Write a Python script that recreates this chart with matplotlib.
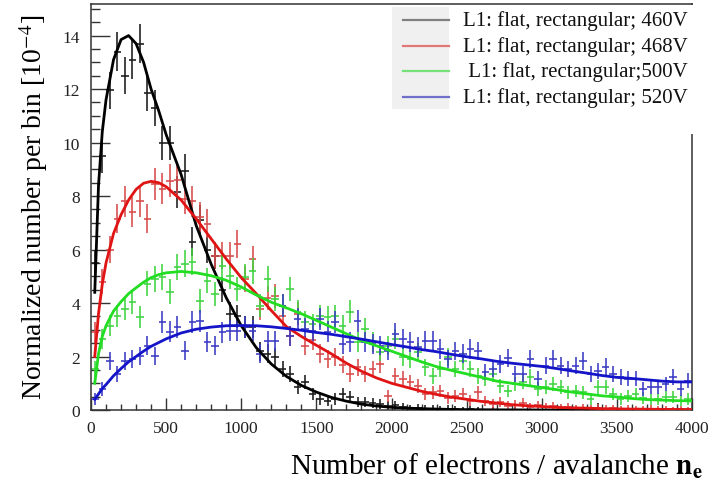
import numpy as np
import matplotlib
matplotlib.use("Agg")
import matplotlib.pyplot as plt
from matplotlib.lines import Line2D
from matplotlib.patches import Rectangle
from matplotlib.ticker import MultipleLocator

# ---------------------------------------------------------------- data
bin_width = 50
bin_centers = np.arange(25, 4000, bin_width)          # 80 bins, 0..4000

labels = [
    "L1: flat, rectangular; 460V",
    "L1: flat, rectangular; 468V",
    " L1: flat, rectangular;500V",
    "L1: flat, rectangular; 520V",
]

# normalized counts per bin [1e-4]
h460 = [5.5, 9.5, 11.95, 13.4, 12.5, 13.1, 13.7, 11.85, 11.3, 9.97,
        9.97, 8.15, 8.95, 6.3, 7.1, 6.0, 5.77, 4.5, 3.6, 3.5,
        3.1, 3.1, 2.2, 2.1, 1.98, 1.54, 1.35, 0.86, 1.05, 0.6,
        0.41, 0.34, 0.41, 0.6, 0.5, 0.3, 0.3, 0.26, 0.22, 0.15,
        0.18, 0.12, 0.06, 0.08, 0.04, 0.05, 0.02, 0.04, 0.02, 0.01,
        0.02, 0.01, 0.0, 0.01, 0.0, 0.0, 0.01, 0.0, 0.0, 0.0,
        0.0, 0.0, 0.0, 0.0, 0.0, 0.0, 0.0, 0.02, 0.0, 0.0,
        0.0, 0.0, 0.0, 0.0, 0.0, 0.0, 0.0, 0.0, 0.0, 0.0]
e460 = [0.5, 0.62, 0.69, 0.72, 0.7, 0.72, 0.73, 0.68, 0.67, 0.64,
        0.64, 0.59, 0.61, 0.53, 0.55, 0.52, 0.51, 0.46, 0.42, 0.42,
        0.4, 0.4, 0.35, 0.35, 0.34, 0.31, 0.3, 0.26, 0.27, 0.23,
        0.21, 0.2, 0.21, 0.23, 0.22, 0.19, 0.19, 0.19, 0.18, 0.17,
        0.17, 0.16, 0.14, 0.15, 0.13, 0.14, 0.12, 0.13, 0.12, 0.12,
        0.12, 0.12, 0.0, 0.12, 0.0, 0.0, 0.12, 0.0, 0.0, 0.0,
        0.0, 0.0, 0.0, 0.0, 0.0, 0.0, 0.0, 0.25, 0.0, 0.0,
        0.0, 0.0, 0.0, 0.0, 0.0, 0.0, 0.0, 0.0, 0.0, 0.0]

h468 = [2.9, 4.8, 6.0, 7.15, 7.8, 7.4, 7.8, 7.15, 8.46, 8.28,
        8.58, 8.6, 7.9, 7.8, 7.2, 6.97, 5.77, 5.77, 5.77, 6.2,
        4.9, 5.65, 3.78, 4.2, 4.27, 3.5, 2.77, 3.6, 2.4, 2.6,
        2.1, 1.9, 1.98, 1.7, 1.35, 1.6, 1.35, 1.54, 1.72, 0.52,
        1.27, 1.16, 1.05, 0.9, 0.6, 0.67, 0.71, 0.45, 0.52, 0.6,
        0.35, 0.67, 0.34, 0.22, 0.3, 0.15, 0.2, 0.25, 0.12, 0.18,
        0.1, 0.14, 0.08, 0.1, 0.06, 0.09, 0.05, 0.07, 0.04, 0.06,
        0.03, 0.05, 0.03, 0.02, 0.04, 0.02, 0.03, 0.01, 0.02, 0.01]
e468 = [0.39, 0.47, 0.52, 0.55, 0.57, 0.56, 0.57, 0.55, 0.59, 0.59,
        0.6, 0.6, 0.58, 0.57, 0.56, 0.55, 0.51, 0.51, 0.51, 0.52,
        0.48, 0.5, 0.43, 0.45, 0.45, 0.42, 0.38, 0.42, 0.36, 0.37,
        0.35, 0.33, 0.34, 0.32, 0.3, 0.32, 0.3, 0.31, 0.32, 0.22,
        0.29, 0.28, 0.27, 0.26, 0.23, 0.24, 0.24, 0.21, 0.22, 0.23,
        0.2, 0.24, 0.2, 0.18, 0.19, 0.17, 0.18, 0.19, 0.16, 0.17,
        0.15, 0.16, 0.15, 0.15, 0.14, 0.15, 0.14, 0.14, 0.13, 0.14,
        0.13, 0.14, 0.13, 0.12, 0.13, 0.12, 0.13, 0.12, 0.12, 0.12]

h500 = [1.54, 2.66, 3.15, 3.52, 3.78, 4.04, 3.48, 4.72, 4.9, 4.98,
        4.42, 5.36, 5.47, 5.54, 4.08, 4.83, 4.34, 5.4, 5.0, 4.53,
        4.98, 5.2, 3.9, 4.9, 4.15, 3.9, 4.53, 3.67, 3.3, 3.2,
        3.52, 3.48, 3.52, 3.15, 3.67, 2.55, 3.03, 2.55, 2.17, 2.4,
        2.66, 2.0, 1.9, 2.17, 1.6, 1.27, 1.54, 1.98, 1.54, 1.83,
        1.54, 1.27, 1.16, 1.35, 0.9, 0.71, 0.97, 1.05, 1.24, 0.79,
        0.86, 0.97, 0.86, 0.67, 0.71, 0.67, 0.41, 0.86, 0.86, 0.6,
        0.41, 0.52, 0.6, 0.45, 0.38, 0.41, 0.49, 0.49, 0.35, 0.41]
e500 = [0.31, 0.38, 0.4, 0.42, 0.43, 0.44, 0.42, 0.47, 0.48, 0.48,
        0.46, 0.49, 0.5, 0.5, 0.44, 0.47, 0.45, 0.5, 0.48, 0.46,
        0.48, 0.49, 0.44, 0.48, 0.45, 0.44, 0.46, 0.43, 0.41, 0.4,
        0.42, 0.42, 0.42, 0.4, 0.43, 0.37, 0.4, 0.37, 0.35, 0.36,
        0.38, 0.34, 0.33, 0.35, 0.32, 0.29, 0.31, 0.34, 0.31, 0.33,
        0.31, 0.29, 0.28, 0.3, 0.26, 0.24, 0.27, 0.27, 0.29, 0.25,
        0.26, 0.27, 0.26, 0.24, 0.24, 0.24, 0.21, 0.26, 0.26, 0.23,
        0.21, 0.22, 0.23, 0.21, 0.2, 0.21, 0.22, 0.22, 0.2, 0.21]

h520 = [0.41, 0.79, 1.84, 1.35, 1.84, 1.91, 2.02, 2.4, 2.02, 3.3,
        2.92, 3.1, 2.22, 3.3, 3.33, 2.55, 2.4, 2.9, 2.96, 2.96,
        3.1, 2.96, 2.1, 2.58, 2.58, 3.9, 2.77, 3.4, 3.03, 2.96,
        3.4, 2.92, 3.3, 2.47, 2.55, 3.33, 2.55, 2.47, 2.4, 2.21,
        2.85, 2.66, 2.55, 2.36, 2.58, 2.58, 2.28, 1.91, 2.21, 2.1,
        2.28, 2.21, 1.42, 1.54, 1.72, 1.95, 1.35, 1.35, 1.91, 1.16,
        1.65, 1.91, 1.65, 1.54, 1.65, 1.84, 1.35, 1.46, 1.61, 1.35,
        1.24, 1.16, 1.16, 0.79, 0.86, 0.86, 0.97, 1.24, 0.79, 1.09]
e520 = [0.21, 0.25, 0.33, 0.3, 0.33, 0.33, 0.34, 0.36, 0.34, 0.41,
        0.39, 0.4, 0.35, 0.41, 0.41, 0.37, 0.36, 0.39, 0.39, 0.39,
        0.4, 0.39, 0.35, 0.37, 0.37, 0.44, 0.38, 0.41, 0.4, 0.39,
        0.41, 0.39, 0.41, 0.37, 0.37, 0.41, 0.37, 0.37, 0.36, 0.35,
        0.39, 0.38, 0.37, 0.36, 0.37, 0.37, 0.36, 0.33, 0.35, 0.35,
        0.36, 0.35, 0.3, 0.31, 0.32, 0.34, 0.3, 0.3, 0.33, 0.28,
        0.32, 0.33, 0.32, 0.31, 0.32, 0.33, 0.3, 0.31, 0.32, 0.3,
        0.29, 0.28, 0.28, 0.25, 0.26, 0.26, 0.27, 0.29, 0.25, 0.28]

# fitted curves, sampled along n_e
fit_x = [25, 50, 75, 100, 150, 200, 250, 300, 350, 400, 450, 500] + list(range(600, 4001, 100))
fit460 = [4.4, 8.4, 10.4, 11.6, 13.1, 13.85, 14.0, 13.7, 13.0, 12.0, 11.2, 10.3,
          8.8, 6.9, 5.45, 4.2, 3.15, 2.33, 1.72, 1.26, 0.92, 0.67, 0.47, 0.33,
          0.22, 0.15, 0.1, 0.07, 0.05, 0.035, 0.02, 0.015, 0.01, 0.006, 0.004, 0.002,
          0.001, 0.0, 0.0, 0.0, 0.0, 0.0, 0.0, 0.0, 0.0, 0.0, 0.0]
fit468 = [2.0, 3.6, 4.7, 5.5, 6.6, 7.3, 7.85, 8.25, 8.48, 8.55, 8.5, 8.35,
          7.85, 7.15, 6.4, 5.65, 4.95, 4.35, 3.72, 3.12, 2.75, 2.42, 2.1, 1.75,
          1.45, 1.2, 1.0, 0.85, 0.7, 0.58, 0.48, 0.4, 0.32, 0.26, 0.2, 0.16,
          0.13, 0.1, 0.08, 0.07, 0.05, 0.04, 0.035, 0.03, 0.025, 0.02, 0.015]
fit500 = [1.0, 2.1, 2.75, 3.15, 3.7, 4.05, 4.35, 4.57, 4.78, 4.95, 5.06, 5.13,
          5.18, 5.13, 5.02, 4.85, 4.6, 4.3, 4.03, 3.82, 3.6, 3.35, 3.1, 2.85,
          2.6, 2.4, 2.2, 2.0, 1.8, 1.62, 1.48, 1.35, 1.22, 1.08, 1.0, 0.92,
          0.84, 0.76, 0.67, 0.6, 0.53, 0.49, 0.43, 0.39, 0.37, 0.35, 0.34]
fit520 = [0.4, 0.6, 0.8, 0.95, 1.28, 1.55, 1.8, 2.0, 2.2, 2.38, 2.52, 2.66,
          2.88, 3.02, 3.1, 3.15, 3.16, 3.15, 3.11, 3.05, 2.98, 2.9, 2.83, 2.74,
          2.65, 2.55, 2.45, 2.36, 2.26, 2.18, 2.08, 1.99, 1.91, 1.82, 1.75, 1.69,
          1.63, 1.55, 1.46, 1.38, 1.29, 1.22, 1.18, 1.13, 1.08, 1.05, 1.05]

hists = [h460, h468, h500, h520]
errs = [e460, e468, e500, e520]
fits = [fit460, fit468, fit500, fit520]

# ---------------------------------------------------------------- style
plt.rcParams["font.family"] = ["Liberation Serif", "DejaVu Serif"]
plt.rcParams["mathtext.fontset"] = "stix"

curve_colors = ["#000000", "#e01414", "#22dd22", "#1414c8"]
bar_colors = ["#1a1a1a", "#d84a4a", "#3fd43f", "#3a3ac4"]
key_colors = ["#808080", "#e07878", "#78e078", "#7070c8"]

W, H = 719, 485
fig = plt.figure(figsize=(W / 100, H / 100), dpi=100)


def fx(x):
    return x / W


def fy(y):
    return 1 - y / H


ax = fig.add_axes([fx(91), fy(411), fx(692) - fx(91), fy(4.5) - fy(411)])

for vals, err, fit, cb, cc in zip(hists, errs, fits, bar_colors, curve_colors):
    ax.errorbar(bin_centers, vals, xerr=bin_width / 2, yerr=err, fmt="none",
                ecolor=cb, elinewidth=1.15, capsize=0, zorder=2)
    ax.plot(fit_x, fit, color=cc, lw=2.0, zorder=3, solid_joinstyle="round")

ax.set_xlim(0, 4000)
ax.set_ylim(0, 15.2)
ax.xaxis.set_major_locator(MultipleLocator(500))
ax.xaxis.set_minor_locator(MultipleLocator(100))
ax.yaxis.set_major_locator(MultipleLocator(2))
ax.yaxis.set_minor_locator(MultipleLocator(0.5))

ax.tick_params(axis="both", which="both", direction="in", top=False, right=False,
               color="#333333", labelsize=12.5, labelcolor="#222222")
ax.tick_params(axis="x", which="major", length=8.5, width=1.0, pad=7)
ax.tick_params(axis="x", which="minor", length=4.2, width=1.0)
ax.tick_params(axis="y", which="major", length=13.5, width=1.0, pad=8)
ax.tick_params(axis="y", which="minor", length=6.5, width=1.0)
for sp in ax.spines.values():
    sp.set_color("#333333")
    sp.set_linewidth(1.1)

ax.set_ylabel(r"Normalized number per bin [10$^{-4}$]", fontsize=20)
ax.yaxis.set_label_coords(-0.068, 0.5)
ax.set_xlabel(r"Number of electrons / avalanche $\mathbf{n_e}$", fontsize=21,
              loc="right")
ax.xaxis.set_label_coords(1.018, -0.1)

# legend block: white panel over the frame, grey strip behind the keys
fig.patches.append(Rectangle((fx(392), fy(135)), fx(700) - fx(392), fy(6) - fy(135),
                             transform=fig.transFigure, facecolor="white",
                             edgecolor="none", zorder=4))
fig.patches.append(Rectangle((fx(392), fy(110)), fx(449) - fx(392), fy(8) - fy(110),
                             transform=fig.transFigure, facecolor="#f0f0f0",
                             edgecolor="none", zorder=4))
for k, (lab, kc) in enumerate(zip(labels, key_colors)):
    yk = 21 + 25.7 * k
    fig.lines.append(Line2D([fx(403), fx(449)], [fy(yk), fy(yk)],
                            transform=fig.transFigure, color=kc, lw=1.6, zorder=5))
    fig.text(fx(688), fy(yk), lab, ha="right", va="center", fontsize=15,
             color="#111111", zorder=5)

fig.savefig("out.png", dpi=100)
